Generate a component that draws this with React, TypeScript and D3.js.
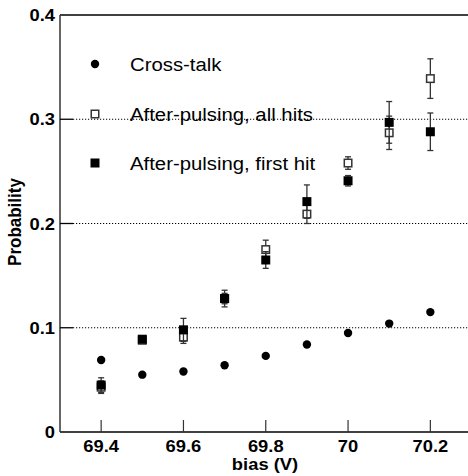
import React from "react";
import * as d3 from "d3";

const bias = [69.4, 69.5, 69.6, 69.7, 69.8, 69.9, 70.0, 70.1, 70.2];
const crossTalk = [0.069, 0.055, 0.058, 0.064, 0.073, 0.084, 0.095, 0.104, 0.115];
const apAll = [0.043, 0.088, 0.091, 0.128, 0.175, 0.209, 0.258, 0.287, 0.339];
const apAllErr = [0.006, 0.003, 0.006, 0.005, 0.009, 0.009, 0.006, 0.016, 0.019];
const apFirst = [0.045, 0.089, 0.098, 0.128, 0.165, 0.221, 0.241, 0.297, 0.288];
const apFirstErr = [0.007, 0.003, 0.011, 0.008, 0.008, 0.016, 0.005, 0.02, 0.018];
const xTicks = [69.4, 69.6, 69.8, 70.0, 70.2];
const xTickLabels = ["69.4", "69.6", "69.8", "70", "70.2"];
const yTicks = [0, 0.1, 0.2, 0.3, 0.4];
const yTickLabels = ["0", "0.1", "0.2", "0.3", "0.4"];
const gridValues = [0.1, 0.2, 0.3];
const legendLabels = ["Cross-talk", "After-pulsing, all hits", "After-pulsing, first hit"];

const W = 468;
const H = 476;
const FONT = "'Liberation Sans', Arial, Helvetica, sans-serif";

const x = d3.scaleLinear().domain([69.3, 70.3]).range([60, 471.5]);
const y = d3.scaleLinear().domain([0, 0.4]).range([432, 15]);

function SText(props: {
  x: number;
  y: number;
  anchor?: string;
  size: number;
  bold?: boolean;
  sx?: number;
  rotate?: number;
  children: React.ReactNode;
}) {
  const { sx = 1.08, rotate = 0 } = props;
  const tr = rotate
    ? `translate(${props.x},${props.y}) rotate(${rotate}) scale(1,${sx})`
    : `translate(${props.x},${props.y}) scale(${sx},1)`;
  return (
    <text
      transform={tr}
      textAnchor={props.anchor || "start"}
      fontFamily={FONT}
      fontSize={props.size}
      fontWeight={props.bold ? "bold" : "normal"}
      fill="#000"
    >
      {props.children}
    </text>
  );
}

function ErrBar({ cx, v, e }: { cx: number; v: number; e: number }) {
  const y1 = y(v + e);
  const y2 = y(v - e);
  return (
    <g stroke="#333" strokeWidth={1.3} fill="none">
      <line x1={cx} x2={cx} y1={y1} y2={y2} />
      <line x1={cx - 3} x2={cx + 3} y1={y1} y2={y1} />
      <line x1={cx - 3} x2={cx + 3} y1={y2} y2={y2} />
    </g>
  );
}

const SQ = 9;

function OpenSq({ cx, cy }: { cx: number; cy: number }) {
  return (
    <rect x={cx - SQ / 2 + 0.75} y={cy - SQ / 2 + 0.75} width={SQ - 1.5} height={SQ - 1.5} fill="#fff" stroke="#333" strokeWidth={1.5} />
  );
}
function FilledSq({ cx, cy }: { cx: number; cy: number }) {
  return <rect x={cx - SQ / 2} y={cy - SQ / 2} width={SQ} height={SQ} fill="#000" />;
}

export default function App() {
  return (
    <svg width={W} height={H} style={{ position: "absolute", left: 0, top: 0, background: "#fff" }}>
      {/* grid */}
      {gridValues.map((g) => (
        <line key={g} x1={73} x2={W} y1={y(g)} y2={y(g)} stroke="#000" strokeWidth={1} strokeDasharray="1.2,1.8" />
      ))}
      {/* frame */}
      <line x1={60} x2={W} y1={15} y2={15} stroke="#000" strokeWidth={1.5} />
      <line x1={60} x2={W} y1={432} y2={432} stroke="#000" strokeWidth={1.5} />
      <line x1={60} x2={60} y1={15} y2={432} stroke="#333" strokeWidth={1.5} />
      {/* y ticks */}
      {yTicks.map((t, i) => (
        <g key={t}>
          {t > 0 && t < 0.4 && <line x1={60} x2={73} y1={y(t)} y2={y(t)} stroke="#000" strokeWidth={1.3} />}
          <SText x={55} y={y(t) + 6} anchor="end" size={17} bold>
            {yTickLabels[i]}
          </SText>
        </g>
      ))}
      {/* x ticks */}
      {xTicks.map((t, i) => (
        <g key={t}>
          <line x1={x(t)} x2={x(t)} y1={432} y2={420} stroke="#333" strokeWidth={1.2} />
          <SText x={x(t)} y={452} anchor="middle" size={17} bold>
            {xTickLabels[i]}
          </SText>
        </g>
      ))}
      {/* axis titles */}
      <SText x={265} y={470} anchor="middle" size={17} bold>
        bias (V)
      </SText>
      <SText x={21} y={222} anchor="middle" size={17} bold rotate={-90} sx={1.12}>
        Probability
      </SText>
      {/* cross-talk */}
      {bias.map((b, i) => (
        <circle key={"c" + b} cx={x(b)} cy={y(crossTalk[i])} r={4.2} fill="#000" />
      ))}
      {/* after-pulsing all hits */}
      {bias.map((b, i) => (
        <g key={"a" + b}>
          <ErrBar cx={x(b)} v={apAll[i]} e={apAllErr[i]} />
          <OpenSq cx={x(b)} cy={y(apAll[i])} />
        </g>
      ))}
      {/* after-pulsing first hit */}
      {bias.map((b, i) => (
        <g key={"f" + b}>
          <ErrBar cx={x(b)} v={apFirst[i]} e={apFirstErr[i]} />
          <FilledSq cx={x(b)} cy={y(apFirst[i])} />
        </g>
      ))}
      {/* legend */}
      <circle cx={95} cy={64} r={4.2} fill="#000" />
      <OpenSq cx={95} cy={114} />
      <FilledSq cx={95} cy={163} />
      {legendLabels.map((l, i) => (
        <SText key={l} x={130} y={[64, 114, 163][i] + 6.5} size={18} sx={1.13}>
          {l}
        </SText>
      ))}
    </svg>
  );
}
